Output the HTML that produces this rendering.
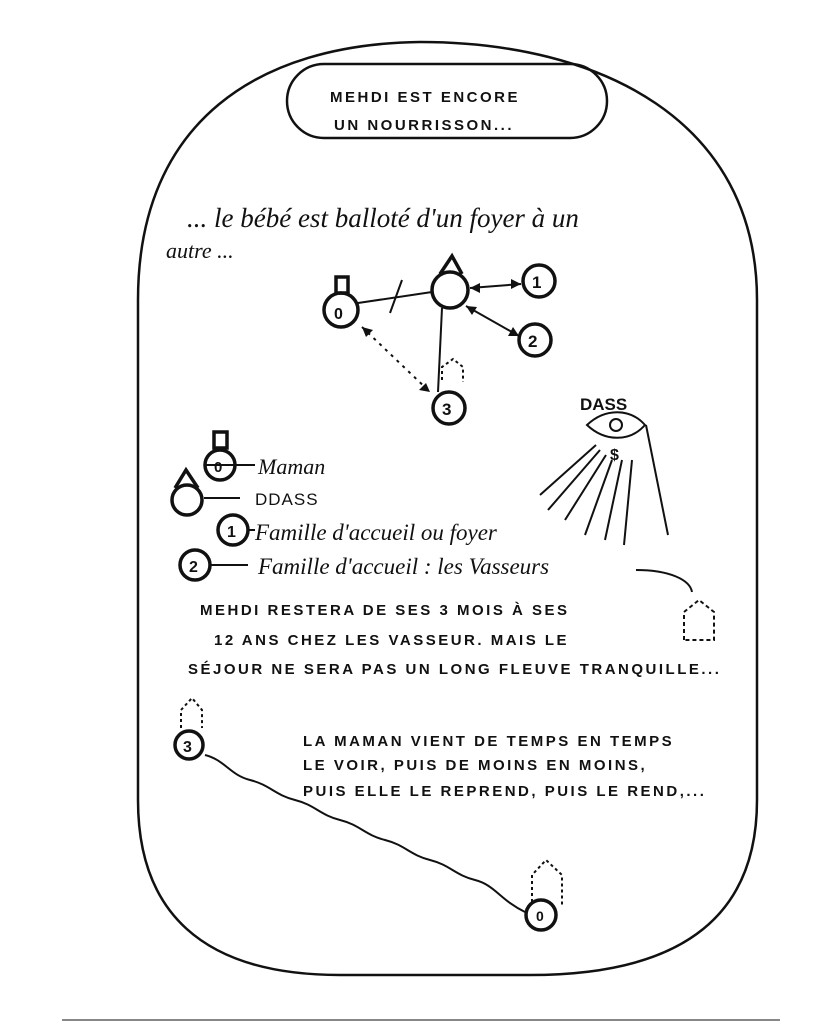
<!DOCTYPE html>
<html><head><meta charset="utf-8"><style>
html,body{margin:0;padding:0;background:#fff;}
svg{display:block}
text{font-family:"Liberation Sans",sans-serif;fill:#111}
.h{font-family:"Liberation Sans",sans-serif;font-size:15px;letter-spacing:2.5px;font-weight:bold}
.c{font-family:"Liberation Serif",serif;font-style:italic}
</style></head><body>
<svg width="815" height="1024" viewBox="0 0 815 1024" xmlns="http://www.w3.org/2000/svg">
<g fill="none" stroke="#111" stroke-width="2.5">
<path d="M138 300 C138 120 260 44 420 42 C600 42 757 120 757 300 L757 800 C757 910 690 975 530 975 L340 975 C200 975 138 910 138 800 Z"/>
<rect x="287" y="64" width="320" height="74" rx="37"/>
</g>
<text class="h" x="330" y="102">MEHDI EST ENCORE</text>
<text class="h" x="334" y="130">UN NOURRISSON...</text>
<text class="c" x="187" y="227" font-size="27">... le bébé est balloté d'un foyer à un</text>
<text class="c" x="166" y="258" font-size="22">autre ...</text>
<g fill="none" stroke="#111" stroke-width="3.5">
<circle cx="341" cy="310" r="17"/>
<circle cx="450" cy="290" r="18"/>
<circle cx="539" cy="281" r="16"/>
<circle cx="535" cy="340" r="16"/>
<circle cx="449" cy="408" r="16"/>
<path d="M440 274 L452 256 L462 274"/>
<rect x="336" y="277" width="12" height="16"/>
<circle cx="220" cy="465" r="15"/>
<rect x="214" y="432" width="13" height="16"/>
<circle cx="187" cy="500" r="15"/>
<path d="M175 488 L186 470 L198 488"/>
<circle cx="233" cy="530" r="15"/>
<circle cx="195" cy="565" r="15"/>
<circle cx="189" cy="745" r="14"/>
<circle cx="541" cy="915" r="15"/>
</g>
<g fill="none" stroke="#111" stroke-width="2">
<line x1="358" y1="303" x2="432" y2="292"/>
<line x1="390" y1="313" x2="402" y2="280"/>
<line x1="470" y1="288" x2="521" y2="284"/>
<line x1="466" y1="306" x2="519" y2="336"/>
<line x1="442" y1="308" x2="438" y2="392"/>
<line x1="362" y1="327" x2="430" y2="392" stroke-dasharray="3,5"/>
<path d="M442 380 L442 367 L453 359 L463 367 L463 382" stroke-dasharray="3,3"/>
<path d="M205 465 L255 465 M204 498 L240 498 M248 530 L255 530 M211 565 L248 565"/>
<path d="M636 570 C670 570 690 580 692 592"/>
<path d="M684 640 L684 612 L699 600 L714 612 L714 640 Z" stroke-dasharray="4,3"/>
<path d="M181 728 L181 710 L192 698 L202 710 L202 728" stroke-dasharray="3,3"/>
<path d="M532 902 L532 875 L546 860 L562 875 L562 905" stroke-dasharray="3,3"/>
<path d="M205 755 C225 760 230 775 250 780 C270 785 275 795 295 800 C315 805 320 815 340 820 C360 825 365 835 385 840 C405 845 410 855 430 860 C450 865 455 875 475 880 C495 885 500 900 525 912"/>
<path d="M587 425 C605 408 630 408 645 425 C630 442 605 442 587 425 Z"/>
<circle cx="616" cy="425" r="6"/>
<path d="M596 445 L540 495 M600 450 L548 510 M606 455 L565 520 M612 460 L585 535 M622 460 L605 540 M632 460 L624 545 M646 425 L668 535"/>
</g>
<g fill="#111">
<path d="M470 288 L480 283 L480 293 Z"/><path d="M521 284 L511 279 L511 289 Z"/>
<path d="M466 306 L477 307 L472 315 Z"/><path d="M519 336 L508 336 L513 327 Z"/>
<path d="M362 327 L373 330 L366 337 Z"/><path d="M430 392 L419 390 L426 383 Z"/>
</g>
<text x="334" y="319" font-size="16" font-weight="bold">0</text>
<text x="532" y="288" font-size="17" font-weight="bold">1</text>
<text x="528" y="347" font-size="17" font-weight="bold">2</text>
<text x="442" y="415" font-size="17" font-weight="bold">3</text>
<text x="580" y="410" font-size="17" font-weight="bold">DASS</text>
<text x="610" y="460" font-size="16" font-weight="bold">$</text>
<text x="214" y="472" font-size="15" font-weight="bold">0</text>
<text x="227" y="537" font-size="16" font-weight="bold">1</text>
<text x="189" y="572" font-size="16" font-weight="bold">2</text>
<text x="183" y="752" font-size="16" font-weight="bold">3</text>
<text x="536" y="921" font-size="14" font-weight="bold">0</text>
<text class="c" x="258" y="474" font-size="22">Maman</text>
<text x="255" y="505" font-size="17" letter-spacing="1">DDASS</text>
<text class="c" x="255" y="540" font-size="23">Famille d'accueil ou foyer</text>
<text class="c" x="258" y="574" font-size="23">Famille d'accueil : les Vasseurs</text>
<text class="h" x="200" y="615" letter-spacing="2">MEHDI RESTERA DE SES 3 MOIS À SES</text>
<text class="h" x="214" y="645" letter-spacing="2">12 ANS CHEZ LES VASSEUR. MAIS LE</text>
<text class="h" x="188" y="674" font-size="14" letter-spacing="1.5">SÉJOUR NE SERA PAS UN LONG FLEUVE TRANQUILLE...</text>
<text class="h" x="303" y="746" font-size="14" letter-spacing="1.6">LA MAMAN VIENT DE TEMPS EN TEMPS</text>
<text class="h" x="303" y="770" font-size="14" letter-spacing="1.6">LE VOIR, PUIS DE MOINS EN MOINS,</text>
<text class="h" x="303" y="796" font-size="14" letter-spacing="1.2">PUIS ELLE LE REPREND, PUIS LE REND,...</text>
<line x1="62" y1="1020" x2="780" y2="1020" stroke="#888" stroke-width="2"/>
</svg>
</body></html>
